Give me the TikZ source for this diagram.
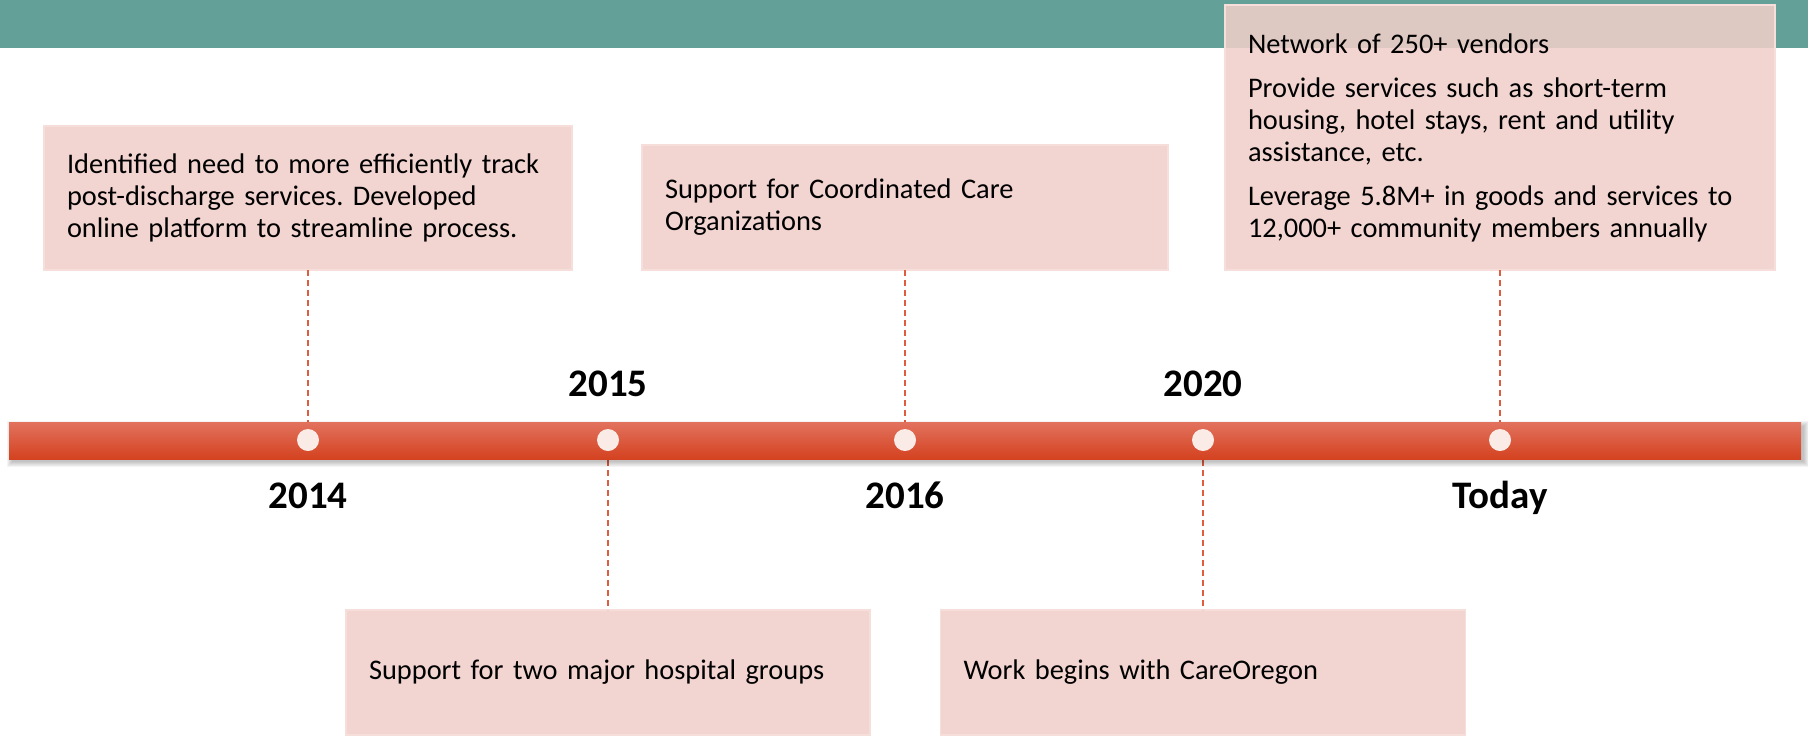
\documentclass[tikz,border=0pt]{standalone}
\usepackage{fontspec}
\setmainfont{Carlito}
\frenchspacing
\definecolor{bandteal}{RGB}{99,160,151}
\definecolor{boxpink}{RGB}{240,206,201}
\definecolor{boxedge}{RGB}{246,222,218}
\definecolor{barTop}{RGB}{226,114,94}
\definecolor{barMid}{RGB}{227,83,50}
\definecolor{barBot}{RGB}{212,66,32}
\definecolor{dotfill}{RGB}{250,235,231}
\definecolor{linkred}{RGB}{222,92,64}

\tikzset{
  event/.style={fill=boxpink, fill opacity=0.88, text opacity=1,
    draw=boxedge, line width=0.6pt, inner xsep=11.5pt, inner ysep=0pt,
    outer sep=0pt, align=left, text=black,
    font=\fontsize{14.2}{16}\selectfont},
  year/.style={anchor=base, text=black, inner sep=0pt,
    font=\bfseries\fontsize{19.5}{23}\selectfont},
  dot/.style={circle, fill=dotfill, minimum size=11pt, inner sep=0pt},
  link/.style={draw=linkred, line width=0.75pt, dash pattern=on 3pt off 2pt}
}

\begin{document}
\begin{tikzpicture}[x=0.5pt,y=-0.5pt]
\useasboundingbox (0,0) rectangle (1808,735);

% header band
\fill[bandteal] (0,0) rectangle (1808,48);

% milestone positions on the timeline
\coordinate (d2014) at (308,440);
\coordinate (d2015) at (608,440);
\coordinate (d2016) at (905,440);
\coordinate (d2020) at (1203,440);
\coordinate (dtoday) at (1500,440);

% milestone boxes
\node[event, minimum width=264pt, minimum height=72pt, text width=241pt]
  (e2014) at (308,198)
  {Identified need to more efficiently track\\ post-discharge services. Developed\\ online platform to streamline process.};
\node[event, minimum width=263pt, minimum height=62.5pt, text width=240pt]
  (e2016) at (905,207.5)
  {Support for Coordinated Care\\ Organizations};
\node[event, minimum width=275pt, minimum height=132.5pt, text width=252pt]
  (etoday) at (1500,137.5)
  {Network of 250+ vendors\\[6pt]
   Provide services such as short-term\\ housing, hotel stays, rent and utility\\ assistance, etc.\\[6pt]
   Leverage 5.8M+ in goods and services to\\ 12,000+ community members annually};
\node[event, minimum width=262pt, minimum height=62.5pt, text width=239pt]
  (e2015) at (608,672.5)
  {Support for two major hospital groups};
\node[event, minimum width=262.5pt, minimum height=62.5pt, text width=239.5pt]
  (e2020) at (1203,672.5)
  {Work begins with CareOregon};

% dashed leaders from boxes to the timeline
\draw[link] (e2014.south) -- (d2014);
\draw[link] (e2016.south) -- (d2016);
\draw[link] (etoday.south) -- (dtoday);
\draw[link] (d2015) -- (e2015.north);
\draw[link] (d2020) -- (e2020.north);

% soft shadow under the timeline bar
\foreach \s in {1,...,6}
  \fill[black, opacity=0.045] (9+4-\s,422+5-\s) rectangle (1801+2+\s,459+2+\s);

% timeline bar
\shade[top color=barTop, middle color=barMid, bottom color=barBot]
  (9,422) rectangle (1801,459);

% milestone dots
\node[dot] (m2014) at (d2014) {};
\node[dot] (m2015) at (d2015) {};
\node[dot] (m2016) at (d2016) {};
\node[dot] (m2020) at (d2020) {};
\node[dot] (mtoday) at (dtoday) {};

% year labels
\node[year] (y2015) at (608,396) {2015};
\node[year] (y2020) at (1203,396) {2020};
\node[year] (y2014) at (308,508) {2014};
\node[year] (y2016) at (905,508) {2016};
\node[year] (ytoday) at (1500,508) {Today};
\end{tikzpicture}
\end{document}
